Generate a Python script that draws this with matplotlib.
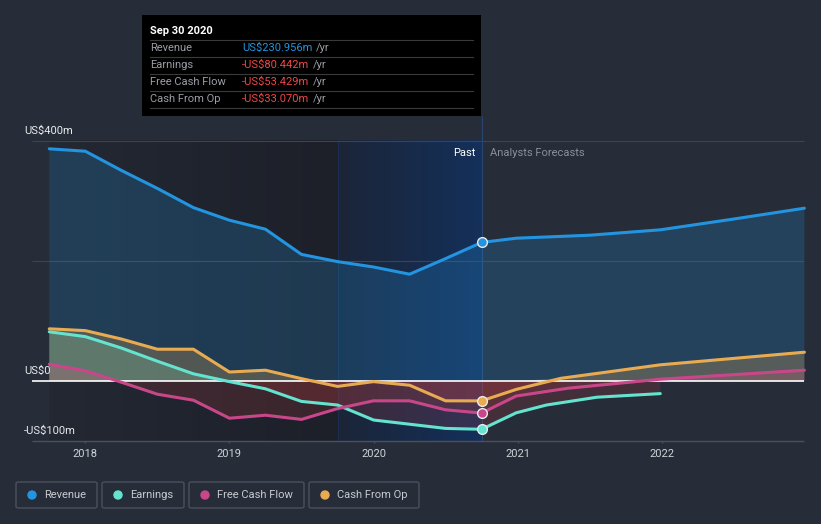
import numpy as np
import matplotlib
matplotlib.use("Agg")
import matplotlib.pyplot as plt
from matplotlib.patches import FancyBboxPatch, Rectangle

plt.rcParams['font.family'] = ['Roboto', 'DejaVu Sans']

# past, quarterly (decimal years)
past_x = [2017.75, 2018.0, 2018.25, 2018.5, 2018.75, 2019.0, 2019.25,
          2019.5, 2019.75, 2020.0, 2020.25, 2020.5, 2020.75]
revenue = [387, 383, 351, 321, 289, 268, 253, 211, 199, 190, 178, 204, 230.956]
earnings = [82, 74, 55, 33, 12, -1, -13, -34, -40, -65, -72, -79, -80.442]
fcf = [28, 17, -2, -22, -32, -62, -57, -64, -46, -33, -33, -48, -53.429]
cfo = [87, 84, 70, 53, 53, 15, 18, 4, -9, -1, -7, -33, -33.070]

# analyst forecasts
rev_fx = [2020.75, 2020.99, 2021.5, 2021.99, 2022.5, 2022.99]
rev_f = [230.956, 238, 243, 252, 270, 288]
earn_fx = [2020.75, 2020.99, 2021.2, 2021.55, 2021.99]
earn_f = [-80.442, -53, -40, -27, -21]
fcf_fx = [2020.75, 2020.99, 2021.35, 2021.99, 2022.99]
fcf_f = [-53.429, -25, -12, 3, 18]
cfo_fx = [2020.75, 2020.99, 2021.3, 2021.99, 2022.99]
cfo_f = [-33.070, -14, 4.5, 27, 48]

years = [2018, 2019, 2020, 2021, 2022]
yticks = [400, 0, -100]
ylabels = ['US$400m', 'US$0', '-US$100m']

c_rev = '#2394df'
c_earn = '#64e3cf'
c_fcf = '#c8478a'
c_cfo = '#e8ab52'
bg = '#262c38'

W, H = 821, 524
fig = plt.figure(figsize=(W / 100, H / 100), dpi=100, facecolor=bg)
ax = fig.add_axes([0, 0, 1, 1])
ax.set_facecolor(bg)
ax.set_xlim(2017.408, 2023.105)
ax.set_ylim(-238.3, 635)
ax.axis('off')


def fp(x, y):
    return x / W, 1 - y / H


# background bands
grad = np.linspace(0, 1, 256).reshape(1, -1)
ax.imshow(grad, extent=(2017.75, 2019.75, -100, 400), aspect='auto',
          cmap=matplotlib.colors.LinearSegmentedColormap.from_list('d', ['#232833', '#1d2029']),
          zorder=0)
ax.imshow(grad, extent=(2019.75, 2020.75, -100, 400), aspect='auto',
          cmap=matplotlib.colors.LinearSegmentedColormap.from_list('b', ['#1b2538', '#14305a']),
          zorder=0)
ax.vlines(2019.75, -100, 400, color='#1b3050', lw=0.8, zorder=1)
ax.vlines(2020.75, -100, 441, color='#2a4670', lw=0.8, zorder=1)

# grid
gx0, gx1 = 2017.63, 2022.99
for v in [400, 200]:
    ax.hlines(v, gx0, gx1, color='#3d4350', lw=0.8, zorder=1)
ax.hlines(-100, gx0, gx1, color='#4a505c', lw=1, zorder=1)
for yr in years:
    ax.vlines(yr, -100, -104, color='#4a505c', lw=1, zorder=1)
    ax.text(yr, -114, str(yr), color='#d0d3d8', fontsize=8, ha='center', va='top')

for v, lab in zip(yticks, ylabels):
    ax.text(2017.575, v + 8, lab, color='#e8eaed', fontsize=8, ha='left', va='bottom', zorder=6)

# series
series = [
    (past_x, revenue, rev_fx, rev_f, c_rev),
    (past_x, earnings, earn_fx, earn_f, c_earn),
    (past_x, fcf, fcf_fx, fcf_f, c_fcf),
    (past_x, cfo, cfo_fx, cfo_f, c_cfo),
]
for px, py, fx, fy, col in series:
    x = np.array(px + fx[1:])
    y = np.array(py + fy[1:], dtype=float)
    alpha = 0.22 if col == c_rev else 0.25
    ax.fill_between(x, np.maximum(y, 0), 0, facecolor=col, alpha=alpha, lw=0, zorder=2)
    ax.fill_between(x, np.minimum(y, 0), 0, facecolor='#d2403f', alpha=0.17, lw=0, zorder=2)
    ax.plot(px, py, color=col, lw=2.2, solid_capstyle='round', solid_joinstyle='round', zorder=4)
    ax.plot(fx, fy, color=col, lw=2.2, solid_capstyle='round', solid_joinstyle='round', zorder=4)
    ax.plot(px[-1], py[-1], 'o', ms=7, mfc=col, mec='#e8eaed', mew=1, zorder=5)

ax.hlines(0, gx0, gx1, color='white', lw=1.2, zorder=3)

ax.text(2020.71, 380, 'Past', color='white', fontsize=8, ha='right', va='center')
ax.text(2020.81, 380, 'Analysts Forecasts', color='#8a9099', fontsize=8, ha='left', va='center')

# tooltip
fig.patches.append(Rectangle(fp(142, 116), 339 / W, 101 / H, transform=fig.transFigure,
                             facecolor='black', edgecolor='none', zorder=10))
fig.text(*fp(150, 31), 'Sep 30 2020', color='white', fontsize=8, fontweight='bold',
         va='center', zorder=11)
for yy in [40, 57, 74, 91, 108]:
    fig.add_artist(plt.Line2D([150 / W, 473 / W], [1 - yy / H] * 2, color='#3a3a3a',
                              lw=0.8, transform=fig.transFigure, zorder=11))
rows = [('Revenue', 'US$230.956m', c_rev), ('Earnings', '-US$80.442m', '#ef4747'),
        ('Free Cash Flow', '-US$53.429m', '#ef4747'), ('Cash From Op', '-US$33.070m', '#ef4747')]
fig.canvas.draw()
r = fig.canvas.get_renderer()
for i, (lab, val, col) in enumerate(rows):
    yy = 48 + 17 * i
    fig.text(*fp(150, yy), lab, color='#9a9ea5', fontsize=8, va='center', zorder=11)
    t = fig.text(*fp(242, yy), val, color=col, fontsize=8, va='center', zorder=11)
    bb = t.get_window_extent(r)
    fig.text(bb.x1 / W + 4 / W, 1 - yy / H, '/yr', color='#9a9ea5', fontsize=8, va='center', zorder=11)

# legend
leg = [('Revenue', c_rev, 16, 97), ('Earnings', c_earn, 102, 184),
       ('Free Cash Flow', c_fcf, 189, 304), ('Cash From Op', c_cfo, 309, 419)]
for lab, col, x0, x1 in leg:
    fig.patches.append(FancyBboxPatch(fp(x0, 508), (x1 - x0) / W, 26 / H,
                                      boxstyle='round,pad=0,rounding_size=0.003',
                                      transform=fig.transFigure, facecolor='none',
                                      edgecolor='#4a505c', lw=1))
    fig.patches.append(matplotlib.patches.Ellipse(fp(x0 + 16, 495), 8 / W, 8 / H,
                                                  transform=fig.transFigure, color=col))
    fig.text(*fp(x0 + 28, 495), lab, color='#c8cbd0', fontsize=8, va='center')

fig.savefig('out.png', dpi=100, facecolor=bg)
